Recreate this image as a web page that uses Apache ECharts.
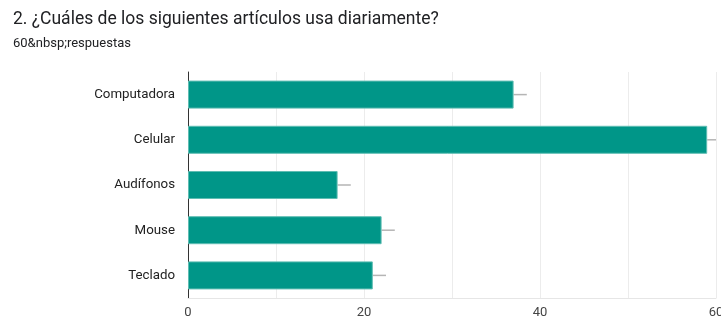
<!DOCTYPE html>
<html>
<head>
<meta charset="utf-8">
<script src="https://cdn.jsdelivr.net/npm/echarts@6/dist/echarts.min.js"></script>
<style>
  html, body { margin: 0; padding: 0; background: #fff; }
  #chart { width: 721px; height: 320px; }
</style>
</head>
<body>
<div id="chart"></div>
<script>
// datos de la pregunta
const categories = ["Computadora", "Celular", "Audífonos", "Mouse", "Teclado"];
const counts = [37, 59, 17, 22, 21];
// fin de la línea gris a la derecha de cada barra
const lineEnds = [38.5, 60.5, 18.5, 23.5, 22.5];
const xTicks = [0, 20, 40, 60];

const myChart = echarts.init(document.getElementById("chart"));

const option = {
  animation: false,
  textStyle: { fontFamily: "Roboto, Arial, sans-serif" },
  title: {
    text: "2. ¿Cuáles de los siguientes artículos usa diariamente?",
    subtext: "60&nbsp;respuestas",
    left: 8,
    top: 6,
    itemGap: 8,
    textStyle: { fontSize: 17.5, fontWeight: "normal", color: "#202124" },
    subtextStyle: { fontSize: 13, color: "#202124" },
  },
  grid: { left: 188, right: 5, top: 72, bottom: 22, containLabel: false, outerBoundsMode: "none" },
  xAxis: {
    type: "value",
    min: 0,
    max: 60,
    interval: 10,
    axisLine: { show: true, lineStyle: { color: "#e6e6e6" } },
    axisTick: { show: false },
    splitLine: { lineStyle: { color: "#ececec" } },
    axisLabel: {
      color: "#444",
      fontSize: 13,
      margin: 8,
      formatter: (v) => (xTicks.includes(v) ? String(v) : ""),
    },
  },
  yAxis: {
    type: "category",
    data: categories,
    inverse: true,
    axisLine: { show: true, lineStyle: { color: "#333", width: 1 } },
    axisTick: { show: false },
    axisLabel: { color: "#222", fontSize: 13.3, margin: 13 },
  },
  series: [
    {
      type: "bar",
      data: counts,
      barWidth: "62%",
      itemStyle: { color: "#009688", borderColor: "#5fbdb3", borderWidth: 1 },
      z: 3,
    },
    {
      type: "custom",
      data: counts.map((c, i) => [c, lineEnds[i], i]),
      clip: true,
      z: 2,
      renderItem: (params, api) => {
        const a = api.coord([api.value(0), api.value(2)]);
        const b = api.coord([api.value(1), api.value(2)]);
        return {
          type: "line",
          shape: { x1: a[0], y1: a[1], x2: b[0], y2: b[1] },
          style: { stroke: "#b5b5b5", lineWidth: 1.5 },
        };
      },
    },
  ],
};

myChart.setOption(option);
</script>
</body>
</html>
